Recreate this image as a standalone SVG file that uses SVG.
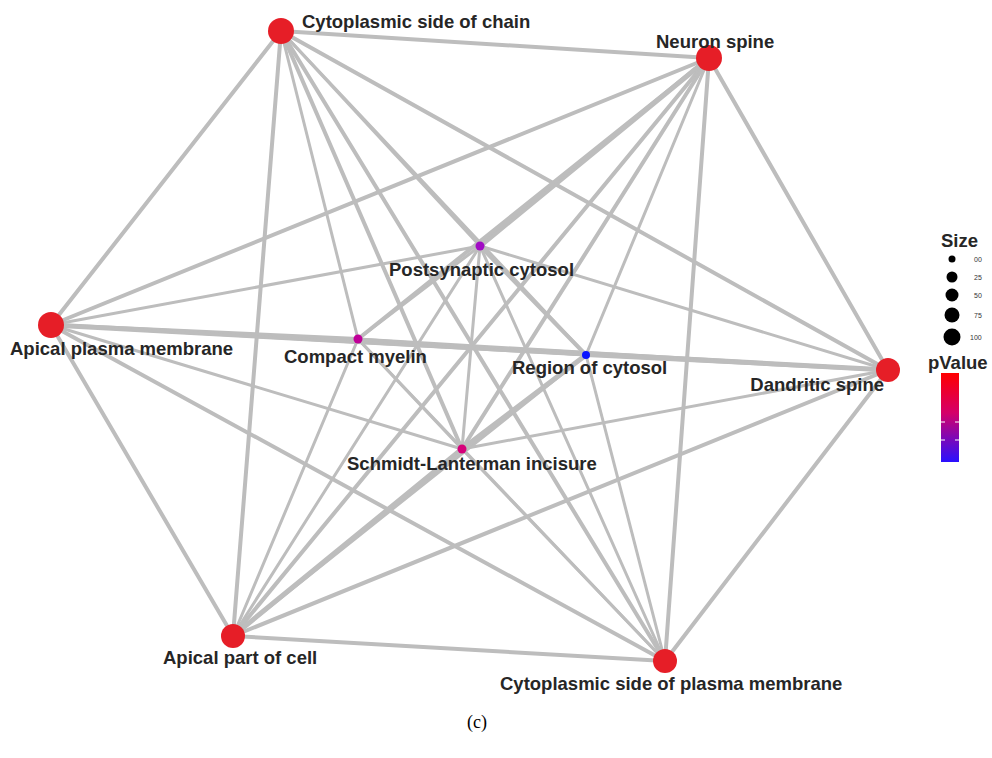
<svg xmlns="http://www.w3.org/2000/svg" width="992" height="758" viewBox="0 0 992 758">
<defs>
<linearGradient id="pv" x1="0" y1="0" x2="0" y2="1">
<stop offset="0" stop-color="#ff0000"/>
<stop offset="0.45" stop-color="#d4006a"/>
<stop offset="1" stop-color="#2a10ff"/>
</linearGradient>
</defs>
<style>
.e{stroke:#bdbdbd;stroke-width:4;stroke-linecap:round;fill:none}
.t{stroke-width:3}
.k{stroke-width:5}
.lbl{font-family:"Liberation Sans",Arial,sans-serif;font-weight:bold;font-size:18.5px;fill:#262626}
.big{fill:#e61e27}
.leg{font-family:"Liberation Sans",Arial,sans-serif;font-size:7px;fill:#333}
</style>
<rect width="992" height="758" fill="#ffffff"/>
<g id="connectors">
<line class="e" x1="281" y1="31" x2="709" y2="58"/>
<line class="e" x1="709" y1="58" x2="888" y2="370"/>
<line class="e" x1="888" y1="370" x2="665" y2="661"/>
<line class="e" x1="665" y1="661" x2="233" y2="636"/>
<line class="e" x1="233" y1="636" x2="51" y2="325"/>
<line class="e" x1="51" y1="325" x2="281" y2="31"/>
<line class="e" x1="281" y1="31" x2="233" y2="636"/>
<line class="e" x1="281" y1="31" x2="888" y2="370"/>
<line class="e" x1="281" y1="31" x2="665" y2="661"/>
<line class="e" x1="709" y1="58" x2="51" y2="325"/>
<line class="e" x1="709" y1="58" x2="233" y2="636"/>
<line class="e" x1="709" y1="58" x2="665" y2="661"/>
<line class="e k" x1="51" y1="325" x2="888" y2="370"/>
<line class="e" x1="51" y1="325" x2="665" y2="661"/>
<line class="e" x1="233" y1="636" x2="888" y2="370"/>
<line class="e t" x1="480" y1="246" x2="281" y2="31"/>
<line class="e k" x1="480" y1="246" x2="709" y2="58"/>
<line class="e t" x1="480" y1="246" x2="51" y2="325"/>
<line class="e t" x1="480" y1="246" x2="888" y2="370"/>
<line class="e t" x1="480" y1="246" x2="233" y2="636"/>
<line class="e t" x1="480" y1="246" x2="665" y2="661"/>
<line class="e t" x1="480" y1="246" x2="358" y2="339"/>
<line class="e" x1="480" y1="246" x2="586" y2="355"/>
<line class="e t" x1="480" y1="246" x2="462" y2="449"/>
<line class="e t" x1="358" y1="339" x2="281" y2="31"/>
<line class="e" x1="358" y1="339" x2="709" y2="58"/>
<line class="e" x1="358" y1="339" x2="51" y2="325"/>
<line class="e t" x1="358" y1="339" x2="888" y2="370"/>
<line class="e t" x1="358" y1="339" x2="233" y2="636"/>
<line class="e t" x1="358" y1="339" x2="665" y2="661"/>
<line class="e t" x1="358" y1="339" x2="586" y2="355"/>
<line class="e t" x1="358" y1="339" x2="462" y2="449"/>
<line class="e t" x1="586" y1="355" x2="281" y2="31"/>
<line class="e t" x1="586" y1="355" x2="709" y2="58"/>
<line class="e t" x1="586" y1="355" x2="51" y2="325"/>
<line class="e" x1="586" y1="355" x2="888" y2="370"/>
<line class="e t" x1="586" y1="355" x2="233" y2="636"/>
<line class="e t" x1="586" y1="355" x2="665" y2="661"/>
<line class="e k" x1="586" y1="355" x2="462" y2="449"/>
<line class="e" x1="462" y1="449" x2="281" y2="31"/>
<line class="e" x1="462" y1="449" x2="709" y2="58"/>
<line class="e t" x1="462" y1="449" x2="51" y2="325"/>
<line class="e t" x1="462" y1="449" x2="888" y2="370"/>
<line class="e k" x1="462" y1="449" x2="233" y2="636"/>
<line class="e t" x1="462" y1="449" x2="665" y2="661"/>
</g>
<g id="n-csc"><circle class="big" cx="281" cy="31" r="13"/><text class="lbl" x="302" y="28">Cytoplasmic side of chain</text></g>
<g id="n-ns"><circle class="big" cx="709" cy="58" r="13"/><text class="lbl" x="656" y="48">Neuron spine</text></g>
<g id="n-apm"><circle class="big" cx="51" cy="325" r="13"/><text class="lbl" x="10" y="355">Apical plasma membrane</text></g>
<g id="n-ds"><circle class="big" cx="888" cy="370" r="12"/><text class="lbl" x="884" y="391" text-anchor="end">Dandritic spine</text></g>
<g id="n-apc"><circle class="big" cx="233" cy="636" r="12"/><text class="lbl" x="163" y="664">Apical part of cell</text></g>
<g id="n-cspm"><circle class="big" cx="665" cy="661" r="12"/><text class="lbl" x="500" y="690">Cytoplasmic side of plasma membrane</text></g>
<g id="n-pc"><circle cx="480" cy="246" r="4.5" fill="#a10cc4"/><text class="lbl" x="389" y="276">Postsynaptic cytosol</text></g>
<g id="n-cm"><circle cx="358" cy="339" r="4.5" fill="#c00098"/><text class="lbl" x="284" y="363">Compact myelin</text></g>
<g id="n-rc"><circle cx="586" cy="355" r="4" fill="#0a14ff"/><text class="lbl" x="512" y="374">Region of cytosol</text></g>
<g id="n-sli"><circle cx="462" cy="449" r="4.5" fill="#d6007a"/><text class="lbl" x="347" y="470">Schmidt-Lanterman incisure</text></g>
<g id="legend">
<text class="lbl" x="941" y="247">Size</text>
<circle cx="952" cy="259" r="3.5" fill="#000"/>
<circle cx="952" cy="277" r="5.5" fill="#000"/>
<circle cx="952" cy="295" r="6.5" fill="#000"/>
<circle cx="952" cy="315" r="7.5" fill="#000"/>
<circle cx="952" cy="337" r="8.5" fill="#000"/>
<text class="leg" x="974" y="262">00</text>
<text class="leg" x="974" y="280">25</text>
<text class="leg" x="974" y="298">50</text>
<text class="leg" x="974" y="318">75</text>
<text class="leg" x="970" y="340">100</text>
<text class="lbl" x="928" y="369">pValue</text>
<rect x="941" y="373" width="18" height="89" fill="url(#pv)"/>
<line x1="941" y1="422" x2="945" y2="422" stroke="#fff" stroke-width="1"/>
<line x1="955" y1="422" x2="959" y2="422" stroke="#fff" stroke-width="1"/>
<line x1="941" y1="440" x2="945" y2="440" stroke="#fff" stroke-width="1"/>
<line x1="955" y1="440" x2="959" y2="440" stroke="#fff" stroke-width="1"/>
</g>
<text x="477" y="728" text-anchor="middle" font-family="Liberation Serif,serif" font-size="18" fill="#000">(c)</text>
</svg>
